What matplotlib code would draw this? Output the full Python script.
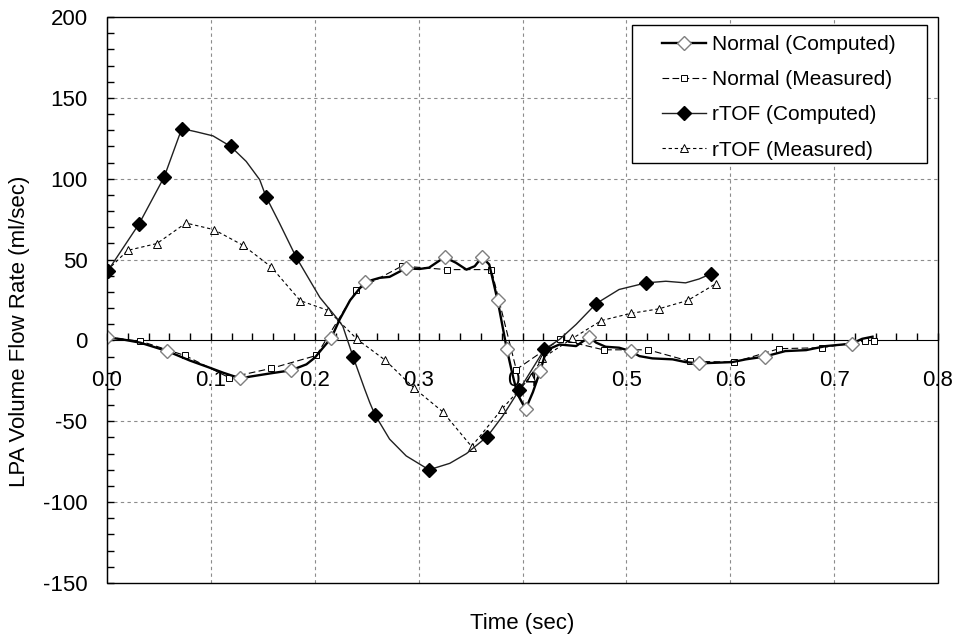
import matplotlib
matplotlib.use('Agg')
import matplotlib.pyplot as plt
from matplotlib.patches import Rectangle
from matplotlib.ticker import MultipleLocator, FormatStrFormatter

plt.rcParams['font.family'] = ['Liberation Sans', 'DejaVu Sans']
plt.rcParams['axes.unicode_minus'] = False

# Normal (Computed): smooth curve, markers at given indices
norm_comp_t = [0.000, 0.016, 0.032, 0.058, 0.080, 0.099, 0.112, 0.1285, 0.1375, 0.157,
               0.177, 0.192, 0.200, 0.208, 0.216, 0.224, 0.234, 0.248, 0.2625, 0.272,
               0.2875, 0.301, 0.310, 0.325, 0.336, 0.346, 0.354, 0.361, 0.368, 0.376,
               0.385, 0.390, 0.395, 0.403, 0.410, 0.417, 0.423, 0.4356, 0.4516, 0.464,
               0.471, 0.480, 0.493, 0.504, 0.5125, 0.525, 0.5445, 0.557, 0.570, 0.586,
               0.602, 0.615, 0.633, 0.653, 0.673, 0.692, 0.717, 0.727, 0.737]
norm_comp_q = [2.0, 0.5, -1.4, -6.6, -12.5, -16.9, -20.0, -23.5, -22.4, -20.4,
               -18.5, -14.8, -10.7, -4.5, 1.6, 13.0, 24.8, 36.0, 38.7, 39.3,
               44.5, 44.2, 45.0, 51.5, 48.0, 43.8, 45.9, 51.5, 47.0, 24.9,
               -5.6, -20.0, -33.0, -42.5, -32.0, -19.0, -6.0, -2.5, -3.5, 2.0,
               -1.4, -3.9, -4.5, -6.6, -9.7, -11.1, -11.7, -13.4, -14.2, -13.8,
               -13.4, -11.7, -10.0, -6.6, -6.0, -3.5, -2.0, 1.0, 2.3]
norm_comp_marks = [0, 3, 7, 10, 14, 17, 20, 23, 27, 29, 30, 33, 35, 39, 43, 48, 52, 56]

# Normal (Measured)
norm_meas_t = [0.000, 0.032, 0.075, 0.1175, 0.158, 0.2016, 0.240, 0.284, 0.327, 0.370,
               0.394, 0.436, 0.478, 0.521, 0.561, 0.604, 0.647, 0.688, 0.730, 0.738]
norm_meas_q = [2.0, -0.4, -9.3, -23.0, -17.3, -9.3, 31.0, 46.0, 43.8, 43.8,
               -18.0, 0.6, -5.8, -5.8, -12.9, -13.4, -5.1, -4.5, -0.4, -0.4]

# rTOF (Computed)
rtof_comp_t = [0.001, 0.031, 0.055, 0.072, 0.086, 0.102, 0.119, 0.134, 0.147, 0.153,
               0.166, 0.182, 0.205, 0.221, 0.227, 0.237, 0.248, 0.253, 0.258, 0.272,
               0.288, 0.310, 0.330, 0.346, 0.366, 0.381, 0.397, 0.421, 0.4356, 0.4516,
               0.471, 0.493, 0.519, 0.538, 0.557, 0.570, 0.581]
rtof_comp_q = [43.2, 72.2, 101.0, 131.0, 129.0, 126.5, 120.0, 110.7, 99.4, 89.0,
               72.6, 51.6, 26.5, 14.0, 8.8, -10.3, -30.0, -38.5, -46.0, -61.0,
               -71.4, -80.0, -76.0, -70.0, -59.5, -46.7, -30.5, -5.6, 0.6, 9.9,
               22.8, 31.5, 35.6, 36.6, 35.6, 38.0, 41.1]
rtof_comp_marks = [0, 1, 2, 3, 6, 9, 11, 15, 18, 21, 24, 26, 27, 30, 32, 36]

# rTOF (Measured)
rtof_meas_t = [0.000, 0.020, 0.048, 0.076, 0.103, 0.131, 0.158, 0.186, 0.213, 0.241,
               0.268, 0.296, 0.323, 0.351, 0.380, 0.408, 0.419, 0.448, 0.476, 0.504,
               0.531, 0.559, 0.586]
rtof_meas_q = [43.2, 55.7, 59.9, 72.6, 68.5, 58.8, 45.5, 24.6, 18.5, 0.6,
               -12.3, -29.7, -44.0, -65.6, -42.6, -22.5, -11.0, 1.2, 12.3, 16.7,
               19.5, 24.7, 35.0]

x_ticks = [0.0, 0.1, 0.2, 0.3, 0.4, 0.5, 0.6, 0.7, 0.8]
y_ticks = [-150, -100, -50, 0, 50, 100, 150, 200]

W, H = 957, 636
fig = plt.figure(figsize=(W / 100, H / 100), dpi=100)
ax = fig.add_axes([107 / W, 53 / H, 831 / W, 566 / H])

ax.set_xlim(0, 0.8)
ax.set_ylim(-150, 200)

# grid
for xv in x_ticks[1:-1]:
    ax.axvline(xv, color='#8c8c8c', lw=0.8, ls=(0, (3, 3)), zorder=0)
for yv in y_ticks[1:-1]:
    if yv != 0:
        ax.axhline(yv, color='#8c8c8c', lw=0.8, ls=(0, (3, 3)), zorder=0)

ax.plot(rtof_meas_t, rtof_meas_q, color='black', lw=0.8, ls=(0, (3, 2.5)),
        marker='^', ms=5.5, mfc='white', mec='black', mew=0.7,
        label='rTOF (Measured)', zorder=3)
ax.plot(norm_meas_t, norm_meas_q, color='black', lw=0.8, ls=(0, (6, 3)),
        marker='s', ms=5, mfc='white', mec='black', mew=0.7,
        label='Normal (Measured)', zorder=3)
ax.plot(rtof_comp_t, rtof_comp_q, color='#202020', lw=1.0, ls='-',
        marker='D', ms=7, mfc='black', mec='black', markevery=rtof_comp_marks,
        label='rTOF (Computed)', zorder=4)
ax.plot(norm_comp_t, norm_comp_q, color='black', lw=1.7, ls='-',
        marker='D', ms=7, mfc='white', mec='#7f7f7f', mew=1.0, markevery=norm_comp_marks,
        label='Normal (Computed)', zorder=5)

# axes: y spine on the left, x axis across y=0, plus the full frame
for s in ax.spines.values():
    s.set_visible(False)
ax.spines['left'].set_visible(True)
ax.spines['bottom'].set_visible(True)
ax.spines['bottom'].set_position(('data', 0))
ax.add_patch(Rectangle((0, 0), 1, 1, transform=ax.transAxes, fill=False,
                       lw=1.0, ec='black', clip_on=False, zorder=6))

ax.xaxis.set_major_locator(MultipleLocator(0.1))
ax.xaxis.set_minor_locator(MultipleLocator(0.02))
ax.yaxis.set_major_locator(MultipleLocator(50))
ax.yaxis.set_minor_locator(MultipleLocator(10))
ax.xaxis.set_major_formatter(FormatStrFormatter('%.1f'))
ax.tick_params(axis='x', which='both', direction='in', length=5, width=1, pad=21, labelsize=16)
ax.tick_params(axis='y', which='both', direction='in', length=5, width=1, pad=14, labelsize=16)

# legend: frame drawn as its own box, entries placed inside it
fig.patches.append(Rectangle((632 / W, 1 - 163 / H), 295 / W, 138 / H,
                             transform=fig.transFigure, fill=True, fc='white',
                             ec='black', lw=1.0, zorder=9))
handles, labels = ax.get_legend_handles_labels()
order = [3, 1, 2, 0]
leg = fig.legend([handles[i] for i in order], [labels[i] for i in order],
                 loc='upper left', bbox_to_anchor=(662 / W, 1 - 35 / H),
                 fontsize=15, frameon=False,
                 handlelength=2.1, handletextpad=0.3, labelspacing=0.78,
                 borderpad=0, borderaxespad=0)
leg.set_zorder(10)

fig.text(0.5 * (107 + 938) / W, 1 - 624 / H, 'Time (sec)', ha='center', va='center', fontsize=16)
fig.text(20 / W, 1 - 331 / H, 'LPA Volume Flow Rate (ml/sec)', rotation=90,
         ha='center', va='center', fontsize=16)

fig.savefig('out.png', dpi=100)
